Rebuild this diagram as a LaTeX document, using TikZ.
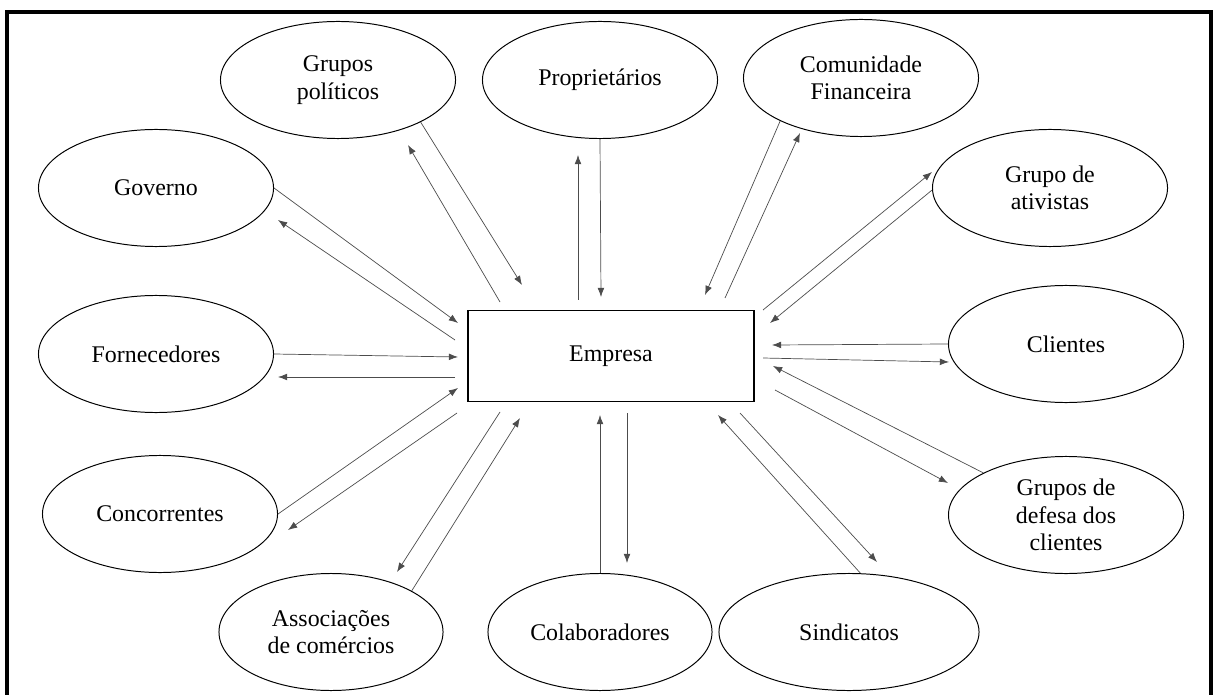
\documentclass[tikz,border=0pt]{standalone}
\usepackage{fontspec}
\setmainfont{Liberation Serif}
\usetikzlibrary{shapes.geometric,arrows.meta}

\tikzset{
  party/.style={draw, ellipse, line width=0.7pt, inner sep=0pt,
    minimum width=5.875cm, minimum height=2.925cm, align=center,
    font=\fontsize{17}{19.5}\selectfont},
  firm/.style={draw, rectangle, line width=0.9pt, inner sep=0pt,
    minimum width=7.15cm, minimum height=2.275cm,
    font=\fontsize{17}{19.5}\selectfont},
  link/.style={black!70, line width=0.5pt, -{Latex[length=2.3mm,width=1.7mm]}},
}

\begin{document}
\begin{tikzpicture}[x=0.025cm, y=-0.025cm]
\useasboundingbox (0,0) rectangle (1216,695);
\draw[line width=2.2pt] (7,12) rectangle (1211,710);
% company in the middle
\node[firm] (emp) at (611,356) {Empresa};
% stakeholders, clockwise from the top
\node[party] (gpol) at (338,80) {Grupos\\políticos};
\node[party] (prop) at (600,80) {Proprietários};
\node[party] (fin) at (861,78) {Comunidade\\Financeira};
\node[party] (ativ) at (1050,188) {Grupo de\\ativistas};
\node[party] (cli) at (1066,344) {Clientes};
\node[party] (def) at (1066,515) {Grupos de\\defesa dos\\clientes};
\node[party, minimum width=6.5cm] (sind) at (849,632) {Sindicatos};
\node[party, minimum width=5.6cm] (colab) at (600,632) {Colaboradores};
\node[party, minimum width=5.6cm] (assoc) at (331,632) {Associações\\de comércios};
\node[party] (conc) at (160,514) {Concorrentes};
\node[party] (forn) at (156,354) {Fornecedores};
\node[party] (gov) at (156,188) {Governo};
% two-way links
\draw[link] (gpol.-27) -- ([shift={(-89,-71)}]emp.center);
\draw[link] ([shift={(-111,-54)}]emp.center) -- ([shift={(70,65)}]gpol.center);
\draw[link] ([shift={(-33,-56)}]emp.center) -- ([shift={(-22,75)}]prop.center);
\draw[link] (prop.south) -- ([shift={(-10,-59)}]emp.center);
\draw[link] (fin.-152) -- ([shift={(94,-61)}]emp.center);
\draw[link] ([shift={(114,-58)}]emp.center) -- ([shift={(-61,55)}]fin.center);
\draw[link] ([shift={(152,-46)}]emp.center) -- ([shift={(-118,-16)}]ativ.center);
\draw[link] (ativ.181) -- ([shift={(159,-33)}]emp.center);
\draw[link] (cli.west) -- ([shift={(161,-11)}]emp.center);
\draw[link] ([shift={(152,2)}]emp.center) -- ([shift={(-117,18)}]cli.center);
\draw[link] (def.153) -- ([shift={(162,10)}]emp.center);
\draw[link] ([shift={(164,34)}]emp.center) -- ([shift={(-118,-32)}]def.center);
\draw[link] (sind.79) -- ([shift={(107,59)}]emp.center);
\draw[link] ([shift={(129,57)}]emp.center) -- ([shift={(28,-70)}]sind.center);
\draw[link] (colab.north) -- ([shift={(-11,59)}]emp.center);
\draw[link] ([shift={(16,57)}]emp.center) -- ([shift={(27,-69)}]colab.center);
\draw[link] ([shift={(-111,56)}]emp.center) -- ([shift={(66,-60)}]assoc.center);
\draw[link] (assoc.27) -- ([shift={(-91,62)}]emp.center);
\draw[link] (conc.east) -- ([shift={(-153,32)}]emp.center);
\draw[link] ([shift={(-154,57)}]emp.center) -- ([shift={(128,16)}]conc.center);
\draw[link] (forn.east) -- ([shift={(-153,1)}]emp.center);
\draw[link] ([shift={(-156,21)}]emp.center) -- ([shift={(122,23)}]forn.center);
\draw[link] (gov.east) -- ([shift={(-153,-33)}]emp.center);
\draw[link] ([shift={(-156,-16)}]emp.center) -- ([shift={(122,32)}]gov.center);
\end{tikzpicture}
\end{document}
